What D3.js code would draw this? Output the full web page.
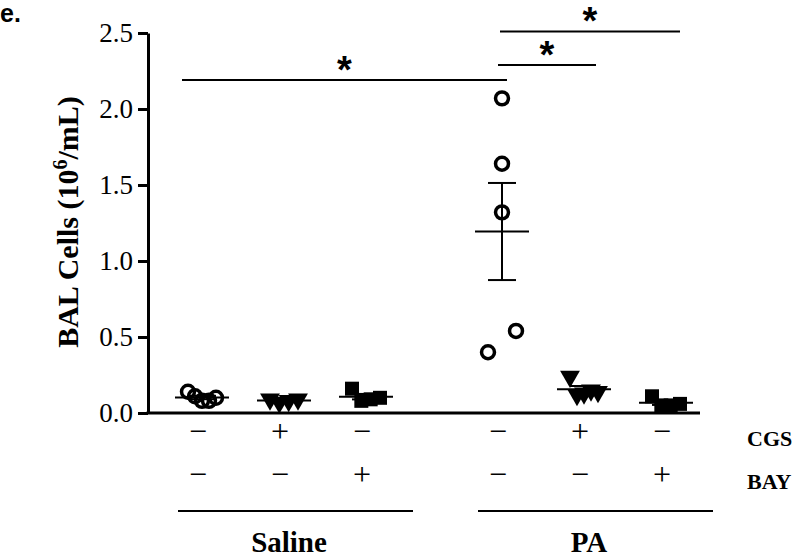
<!DOCTYPE html>
<html>
<head>
<meta charset="utf-8">
<script src="https://cdn.jsdelivr.net/npm/d3@7"></script>
<style>
  body { margin: 0; background: #fff; }
  svg { display: block; }
  .serif { font-family: 'Liberation Serif', 'Times New Roman', serif; }
</style>
</head>
<body>
<div id="chart"></div>
<script>
'use strict';

// groups and treatments
const groups = ['Saline', 'PA'];
const treatments = ['Vehicle', 'CGS', 'BAY'];
const cgsRow = ['\u2212', '+', '\u2212'];
const bayRow = ['\u2212', '\u2212', '+'];
const rowNames = ['CGS', 'BAY'];

// BAL cells (10^6/mL), one array per column
const salineVehicle = [0.14, 0.11, 0.08, 0.08, 0.10];
const salineCgs = [0.09, 0.07, 0.08, 0.09];
const salineBay = [0.16, 0.08, 0.09, 0.10];
const paVehicle = [2.07, 1.64, 1.32, 0.40, 0.54];
const paCgs = [0.24, 0.12, 0.13, 0.15, 0.14];
const paBay = [0.11, 0.05, 0.05, 0.06];

const yTicks = [0, 0.5, 1.0, 1.5, 2.0, 2.5];

// significance brackets: column indices and level
const sigPairs = [[0, 3], [3, 4], [3, 5]];
const sigLevels = [2.19, 2.29, 2.51];

const columns = [
  { group: 'Saline', t: 0, shape: 'circle', values: salineVehicle },
  { group: 'Saline', t: 1, shape: 'triangle', values: salineCgs },
  { group: 'Saline', t: 2, shape: 'square', values: salineBay },
  { group: 'PA', t: 0, shape: 'circle', values: paVehicle },
  { group: 'PA', t: 1, shape: 'triangle', values: paCgs },
  { group: 'PA', t: 2, shape: 'square', values: paBay },
];

const W = 800;
const H = 559;
const axisX = 148;
const axisRight = 700;

const svg = d3.select('#chart')
  .append('svg')
  .attr('width', W)
  .attr('height', H);

const y = d3.scaleLinear().domain([0, 2.5]).range([413, 33]);

const outer = d3.scalePoint().domain(groups).range([284, 584]);
const inner = d3.scalePoint().domain(treatments.map((d, i) => i)).range([-82, 82]);
const colX = (c) => outer(c.group) + inner(c.t);

// y axis
const yAxis = svg.append('g')
  .attr('transform', `translate(${axisX},0)`)
  .call(d3.axisLeft(y).tickValues(yTicks).tickFormat(d3.format('.1f')).tickSize(10).tickSizeOuter(0).tickPadding(5));
yAxis.select('.domain').attr('stroke-width', 3);
yAxis.selectAll('.tick line').attr('stroke-width', 3);
yAxis.selectAll('.tick text')
  .attr('class', 'serif')
  .style('font-size', '27px')
  .attr('fill', '#000');

// x axis line
svg.append('line')
  .attr('x1', axisX - 1.5)
  .attr('x2', axisRight)
  .attr('y1', y(0))
  .attr('y2', y(0))
  .attr('stroke', '#000')
  .attr('stroke-width', 3);

// y label
svg.append('text')
  .attr('class', 'serif')
  .attr('transform', `translate(78, 222) rotate(-90)`)
  .attr('text-anchor', 'middle')
  .style('font-size', '30px')
  .style('font-weight', 'bold')
  .call((t) => {
    t.append('tspan').text('BAL Cells (10');
    t.append('tspan').attr('dy', -11).style('font-size', '20px').text('6');
    t.append('tspan').attr('dy', 11).text('/mL)');
  });

// panel letter
svg.append('text')
  .attr('x', 0)
  .attr('y', 22)
  .style('font-family', "'Liberation Sans', Arial, sans-serif")
  .style('font-size', '25px')
  .style('font-weight', 'bold')
  .text('e.');

// point layout: points close in value share a row spread over a fixed width
const spread = 28;
const layout = (values) => {
  const pts = values.map((v, i) => ({ v, i, py: y(v) }));
  const sorted = pts.slice().sort((a, b) => a.py - b.py);
  const clusters = [];
  sorted.forEach((p) => {
    const last = clusters[clusters.length - 1];
    if (last && p.py - last[last.length - 1].py < 22) last.push(p);
    else clusters.push([p]);
  });
  clusters.forEach((cl) => {
    cl.sort((a, b) => a.i - b.i);
    cl.forEach((p, k) => {
      p.dx = cl.length > 1 ? -spread / 2 + k * spread / (cl.length - 1) : 0;
    });
  });
  return pts;
};

const symbols = {
  circle: d3.symbol(d3.symbolCircle, Math.PI * 42),
  triangle: d3.symbol(d3.symbolTriangle, 170),
  square: d3.symbol(d3.symbolSquare, 196),
};

columns.forEach((c) => {
  const cx = colX(c);
  const pts = layout(c.values);
  const g = svg.append('g');

  g.selectAll('path.pt')
    .data(pts)
    .enter()
    .append('path')
    .attr('class', 'pt')
    .attr('d', symbols[c.shape]())
    .attr('transform', (p) => `translate(${cx + p.dx},${p.py})${c.shape === 'triangle' ? ' rotate(180)' : ''}`)
    .attr('fill', c.shape === 'circle' ? 'none' : '#000')
    .attr('stroke', c.shape === 'circle' ? '#000' : 'none')
    .attr('stroke-width', 3.5);

  const mean = d3.mean(c.values);
  const sem = d3.deviation(c.values) / Math.sqrt(c.values.length);

  g.append('line')
    .attr('x1', cx - 27).attr('x2', cx + 27)
    .attr('y1', y(mean)).attr('y2', y(mean))
    .attr('stroke', '#000').attr('stroke-width', 2);
  g.append('line')
    .attr('x1', cx).attr('x2', cx)
    .attr('y1', y(mean + sem)).attr('y2', y(mean - sem))
    .attr('stroke', '#000').attr('stroke-width', 2);
  [mean + sem, mean - sem].forEach((v) => {
    g.append('line')
      .attr('x1', cx - 14).attr('x2', cx + 14)
      .attr('y1', y(v)).attr('y2', y(v))
      .attr('stroke', '#000').attr('stroke-width', 2);
  });
});

// significance brackets
const padL = [20, 4, 2];
const padR = [5, 12, 14];
sigPairs.forEach((pair, i) => {
  const x1 = colX(columns[pair[0]]) - padL[i];
  const x2 = colX(columns[pair[1]]) + padR[i];
  const ly = y(sigLevels[i]);
  svg.append('line')
    .attr('x1', x1).attr('x2', x2)
    .attr('y1', ly).attr('y2', ly)
    .attr('stroke', '#000').attr('stroke-width', 2);
  svg.append('text')
    .attr('x', (x1 + x2) / 2)
    .attr('y', ly + 3)
    .attr('text-anchor', 'middle')
    .style('font-family', "'Liberation Sans', Arial, sans-serif")
    .style('font-size', '38px')
    .style('font-weight', 'bold')
    .text('*');
});

// treatment rows
[cgsRow, bayRow].forEach((row, r) => {
  columns.forEach((c) => {
    svg.append('text')
      .attr('class', 'serif')
      .attr('x', colX(c) - 4)
      .attr('y', 442 + r * 43)
      .attr('text-anchor', 'middle')
      .style('font-size', '32px')
      .text(row[c.t]);
  });
  svg.append('text')
    .attr('class', 'serif')
    .attr('x', 747)
    .attr('y', 446 + r * 43)
    .style('font-size', '22px')
    .style('font-weight', 'bold')
    .text(rowNames[r]);
});

// group underlines and names
groups.forEach((gname) => {
  const cx = outer(gname);
  svg.append('line')
    .attr('x1', cx - 106).attr('x2', cx + 129)
    .attr('y1', 511).attr('y2', 511)
    .attr('stroke', '#000').attr('stroke-width', 2);
  svg.append('text')
    .attr('class', 'serif')
    .attr('x', cx + 5)
    .attr('y', 552)
    .attr('text-anchor', 'middle')
    .style('font-size', '29px')
    .style('font-weight', 'bold')
    .text(gname);
});
</script>
</body>
</html>
